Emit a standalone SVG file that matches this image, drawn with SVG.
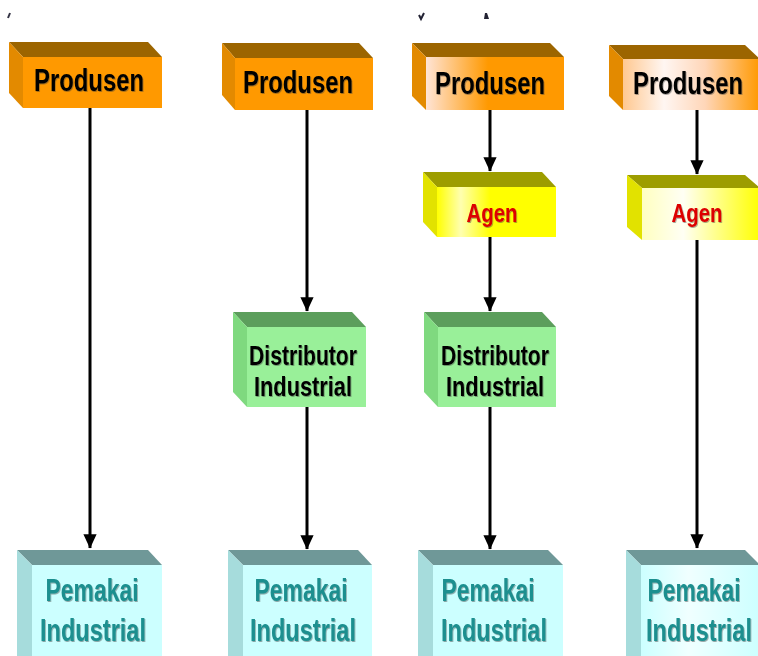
<svg xmlns="http://www.w3.org/2000/svg" width="758" height="656" viewBox="0 0 758 656">
<style>
  .t { font-family: "Liberation Sans", Arial, sans-serif; font-weight: bold; text-anchor: middle; }
  .prod { font-size: 32px; fill: #000; }
  .agen { font-size: 26px; fill: #dd0000; }
  .dist { font-size: 27px; fill: #000; }
  .pem { font-size: 31px; fill: #1a8f8f; }
  .oTop { fill: #9c6500; } .oSide { fill: #e38a00; } .oFront { fill: #ff9900; }
  .yTop { fill: #9d9d00; } .ySide { fill: #e2e200; } .yFront { fill: #ffff00; }
  .gTop { fill: #5c9e5c; } .gSide { fill: #7fd97f; } .gFront { fill: #99f099; }
  .cTop { fill: #6f9898; } .cSide { fill: #a6dcdc; } .cFront { fill: #ccffff; }
  .line { stroke: #000; stroke-width: 3; fill: none; marker-end: url(#arrow); }
</style>
<defs>
  <marker id="arrow" markerWidth="5" markerHeight="5" refX="4.6" refY="2.5" orient="auto" markerUnits="strokeWidth">
    <path d="M0,0.3 L4.8,2.5 L0,4.7 Z" fill="#000"/>
  </marker>
  <linearGradient id="oGrad3" x1="0" y1="0" x2="1" y2="0">
    <stop offset="0" stop-color="#ffe4d6"/>
    <stop offset="0.45" stop-color="#ff9900"/>
    <stop offset="1" stop-color="#ff9900"/>
  </linearGradient>
  <linearGradient id="oGrad4" x1="0" y1="0" x2="1" y2="0">
    <stop offset="0" stop-color="#ffc890"/>
    <stop offset="0.3" stop-color="#fff6f2"/>
    <stop offset="0.6" stop-color="#ffd6b8"/>
    <stop offset="1" stop-color="#ff9900"/>
  </linearGradient>
  <linearGradient id="yGrad3" x1="0" y1="0" x2="1" y2="0">
    <stop offset="0" stop-color="#ffff00"/>
    <stop offset="0.2" stop-color="#ffffb0"/>
    <stop offset="0.45" stop-color="#ffff00"/>
    <stop offset="1" stop-color="#ffff00"/>
  </linearGradient>
  <linearGradient id="yGrad4" x1="0" y1="0" x2="1" y2="0">
    <stop offset="0" stop-color="#ffffc0"/>
    <stop offset="0.35" stop-color="#fffff4"/>
    <stop offset="1" stop-color="#ffff00"/>
  </linearGradient>
  <linearGradient id="cGrad4" x1="0" y1="0" x2="1" y2="0">
    <stop offset="0" stop-color="#ccffff"/>
    <stop offset="0.4" stop-color="#f0ffff"/>
    <stop offset="1" stop-color="#ccffff"/>
  </linearGradient>
  <filter id="sh" x="-10%" y="-20%" width="120%" height="140%">
    <feDropShadow dx="1" dy="1" stdDeviation="0.6" flood-color="#333" flood-opacity="0.45"/>
  </filter>
</defs>

<!-- small marks at top -->
<path d="M8,18 L10,13" stroke="#334" stroke-width="2"/>
<path d="M419,15 L421,19 L424,13" stroke="#223" stroke-width="2" fill="none"/>
<path d="M484,19 L485,13 L487,13 L489,19 Z" fill="#223"/>

<g id="connectors">
  <line class="line" x1="90" y1="108" x2="90" y2="548"/>
  <line class="line" x1="307" y1="110" x2="307" y2="311"/>
  <line class="line" x1="307" y1="407" x2="307" y2="549"/>
  <line class="line" x1="490" y1="110" x2="490" y2="171"/>
  <line class="line" x1="490" y1="237" x2="490" y2="311"/>
  <line class="line" x1="490" y1="407" x2="490" y2="549"/>
  <line class="line" x1="697" y1="110" x2="697" y2="174"/>
  <line class="line" x1="697" y1="240" x2="697" y2="548"/>
</g>

<!-- Column 1 -->
<g id="produsen1">
  <polygon class="oTop" points="9,42 148,42 162,57 23,57"/>
  <polygon class="oSide" points="9,42 23,57 23,108 9,93"/>
  <rect class="oFront" x="23" y="57" width="139" height="51"/>
  <text class="t prod" transform="translate(89,91) scale(0.746,1)" filter="url(#sh)">Produsen</text>
</g>
<g id="pemakai1">
  <polygon class="cTop" points="17,550 148,550 162,565 32,565"/>
  <polygon class="cSide" points="17,550 32,565 32,660 17,660"/>
  <rect class="cFront" x="32" y="565" width="130" height="95"/>
  <text class="t pem" transform="translate(92,601) scale(0.74,1)" filter="url(#sh)">Pemakai</text>
  <text class="t pem" transform="translate(93,641) scale(0.76,1)" filter="url(#sh)">Industrial</text>
</g>

<!-- Column 2 -->
<g id="produsen2">
  <polygon class="oTop" points="222,43 359,43 373,58 235,58"/>
  <polygon class="oSide" points="222,43 235,58 235,110 222,95"/>
  <rect class="oFront" x="235" y="58" width="138" height="52"/>
  <text class="t prod" transform="translate(298,93) scale(0.746,1)" filter="url(#sh)">Produsen</text>
</g>
<g id="distributor2">
  <polygon class="gTop" points="233,312 352,312 366,327 247,327"/>
  <polygon class="gSide" points="233,312 247,327 247,407 233,392"/>
  <rect class="gFront" x="247" y="327" width="119" height="80"/>
  <text class="t dist" transform="translate(303,365) scale(0.783,1)" filter="url(#sh)">Distributor</text>
  <text class="t dist" transform="translate(303,396) scale(0.806,1)" filter="url(#sh)">Industrial</text>
</g>
<g id="pemakai2">
  <polygon class="cTop" points="228,550 358,550 372,565 243,565"/>
  <polygon class="cSide" points="228,550 243,565 243,660 228,660"/>
  <rect class="cFront" x="243" y="565" width="129" height="95"/>
  <text class="t pem" transform="translate(301,601) scale(0.74,1)" filter="url(#sh)">Pemakai</text>
  <text class="t pem" transform="translate(303,641) scale(0.76,1)" filter="url(#sh)">Industrial</text>
</g>

<!-- Column 3 -->
<g id="produsen3">
  <polygon class="oTop" points="412,43 550,43 564,57 426,57"/>
  <polygon class="oSide" points="412,43 426,57 426,110 412,96"/>
  <rect x="426" y="57" width="138" height="53" fill="url(#oGrad3)"/>
  <text class="t prod" transform="translate(490,94) scale(0.746,1)" filter="url(#sh)">Produsen</text>
</g>
<g id="agen3">
  <polygon class="yTop" points="423,172 542,172 556,187 437,187"/>
  <polygon class="ySide" points="423,172 437,187 437,237 423,222"/>
  <rect x="437" y="187" width="119" height="50" fill="url(#yGrad3)"/>
  <text class="t agen" transform="translate(492,222) scale(0.785,1)" filter="url(#sh)">Agen</text>
</g>
<g id="distributor3">
  <polygon class="gTop" points="424,312 542,312 556,327 438,327"/>
  <polygon class="gSide" points="424,312 438,327 438,407 424,392"/>
  <rect class="gFront" x="438" y="327" width="118" height="80"/>
  <text class="t dist" transform="translate(495,365) scale(0.783,1)" filter="url(#sh)">Distributor</text>
  <text class="t dist" transform="translate(495,396) scale(0.806,1)" filter="url(#sh)">Industrial</text>
</g>
<g id="pemakai3">
  <polygon class="cTop" points="418,550 548,550 563,565 433,565"/>
  <polygon class="cSide" points="418,550 433,565 433,660 418,660"/>
  <rect class="cFront" x="433" y="565" width="130" height="95"/>
  <text class="t pem" transform="translate(488,601) scale(0.74,1)" filter="url(#sh)">Pemakai</text>
  <text class="t pem" transform="translate(494,641) scale(0.76,1)" filter="url(#sh)">Industrial</text>
</g>

<!-- Column 4 -->
<g id="produsen4">
  <polygon class="oTop" points="609,45 745,45 760,59 623,59"/>
  <polygon class="oSide" points="609,45 623,59 623,110 609,96"/>
  <rect x="623" y="59" width="137" height="51" fill="url(#oGrad4)"/>
  <text class="t prod" transform="translate(688,94) scale(0.746,1)" filter="url(#sh)">Produsen</text>
</g>
<g id="agen4">
  <polygon class="yTop" points="627,175 745,175 760,188 642,188"/>
  <polygon class="ySide" points="627,175 642,188 642,240 627,227"/>
  <rect x="642" y="188" width="118" height="52" fill="url(#yGrad4)"/>
  <text class="t agen" transform="translate(697,222) scale(0.785,1)" filter="url(#sh)">Agen</text>
</g>
<g id="pemakai4">
  <polygon class="cTop" points="626,550 745,550 760,565 641,565"/>
  <polygon class="cSide" points="626,550 641,565 641,660 626,660"/>
  <rect x="641" y="565" width="119" height="95" fill="url(#cGrad4)"/>
  <text class="t pem" transform="translate(694,601) scale(0.74,1)" filter="url(#sh)">Pemakai</text>
  <text class="t pem" transform="translate(699,641) scale(0.76,1)" filter="url(#sh)">Industrial</text>
</g>
</svg>
